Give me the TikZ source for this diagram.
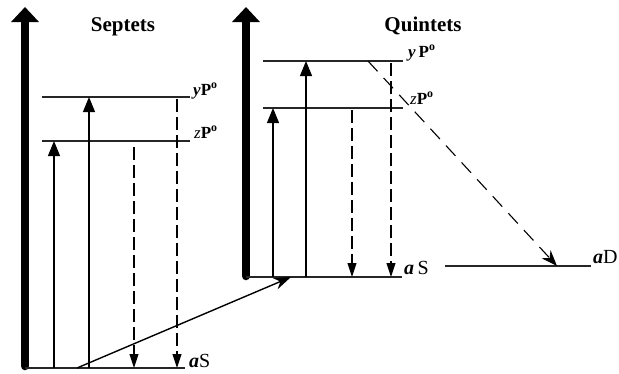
\documentclass[tikz,border=0pt]{standalone}
\usepackage{fontspec}
\setmainfont{Liberation Serif}
\usetikzlibrary{arrows.meta,positioning,calc}

\begin{document}
\begin{tikzpicture}[x=1pt, y=-1pt,
          level/.style={line width=1.3pt, black!85},
          axis/.style={line width=8.5pt, line cap=round,
                       -{Triangle[length=15pt, width=27pt]}},
          up/.style={line width=1.2pt, -{Triangle[length=15pt, width=12pt]}},
          down/.style={line width=1.1pt, dash pattern=on 13pt off 5pt,
                       -{Triangle[length=14pt, width=9pt]}},
          diag/.style={line width=1.1pt, dash pattern=on 14pt off 9pt,
                       -{Stealth[length=16pt, width=12pt]}},
          trans/.style={line width=1.4pt, -{Stealth[length=17pt, width=12pt]}},
          title/.style={font=\fontsize{21}{25}\selectfont\bfseries, anchor=base},
          lab/.style={font=\fontsize{17}{20}\selectfont\bfseries, anchor=base west, inner sep=0pt},
          glab/.style={font=\fontsize{20}{24}\selectfont, anchor=base west, inner sep=0pt}
        ]
          \useasboundingbox (0,0) rectangle (619,373);
          % energy axes
          \draw[axis] (25,366) -- (25,7);
          \draw[axis] (246,276) -- (246,7);
          \node[title] (sept) at (123,31) {Septets};
          \node[title] (quin) at (423,31) {Quintets};
          % septet levels
          \coordinate (syL) at (42,97);  \coordinate (syR) at (190,97);
          \coordinate (szL) at (42,141); \coordinate (szR) at (190,141);
          \coordinate (saL) at (25,368); \coordinate (saR) at (185,368);
          \draw[level] (syL) -- (syR);
          \draw[level] (szL) -- (szR);
          \draw[level] (saL) -- (saR);
          \node[lab] (syP) at (193,95) {\textit{y}P\textsuperscript{o}};
          \node[lab] (szP) at (194,138) {\textmd{\textit{z}}P\textsuperscript{o}};
          \node[glab] (saS) at (189,367) {\textbf{\textit{a}}S};
          % quintet levels
          \coordinate (qyL) at (263,61);  \coordinate (qyR) at (403,61);
          \coordinate (qzL) at (263,108); \coordinate (qzR) at (403,108);
          \coordinate (qaL) at (246,277); \coordinate (qaR) at (402,277);
          \coordinate (dL) at (445,266);  \coordinate (dR) at (591,266);
          \draw[level] (qyL) -- (qyR);
          \draw[level] (qzL) -- (qzR);
          \draw[level] (qaL) -- (qaR);
          \draw[level] (dL) -- (dR);
          \node[lab] (qyP) at (408,57) {\textit{y}\,P\textsuperscript{o}};
          \node[lab] (qzP) at (410,104) {\textmd{\textit{z}}P\textsuperscript{o}};
          \node[glab] (qaS) at (404,274) {\textbf{\textit{a}}\,S};
          \node[glab] (aD) at (593,263) {\textbf{\textit{a}}D};
          % transition columns
          \coordinate (s1) at (54,0);  \coordinate (s2) at (89,0);
          \coordinate (s3) at (134,0); \coordinate (s4) at (177,0);
          \coordinate (q1) at (273,0); \coordinate (q2) at (306,0);
          \coordinate (q3) at (352,0); \coordinate (q4) at (391,0);
          \draw[up] (s1 |- saL) -- (s1 |- szL);
          \draw[up] (s2 |- saL) -- (s2 |- syL);
          \draw[down] ($(s3 |- szL)+(0,6)$) -- (s3 |- saL);
          \draw[down] ($(s4 |- syL)+(0,2)$) -- (s4 |- saL);
          \draw[up] (q1 |- qaL) -- (q1 |- qzL);
          \draw[up] (q2 |- qaL) -- (q2 |- qyL);
          \draw[down] ($(q3 |- qzL)+(0,2)$) -- (q3 |- qaL);
          \draw[down] ($(q4 |- qyL)+(0,2)$) -- (q4 |- qaL);
          % septet aS to quintet aS, yP to aD
          \coordinate (tS) at (77,368);  \coordinate (tQ) at (291,277);
          \draw[trans] (tS) -- (tQ);
          \coordinate (dy) at (368,61);  \coordinate (dD) at (557,266);
          \draw[diag] (dy) -- (dD);
        \end{tikzpicture}
\end{document}
